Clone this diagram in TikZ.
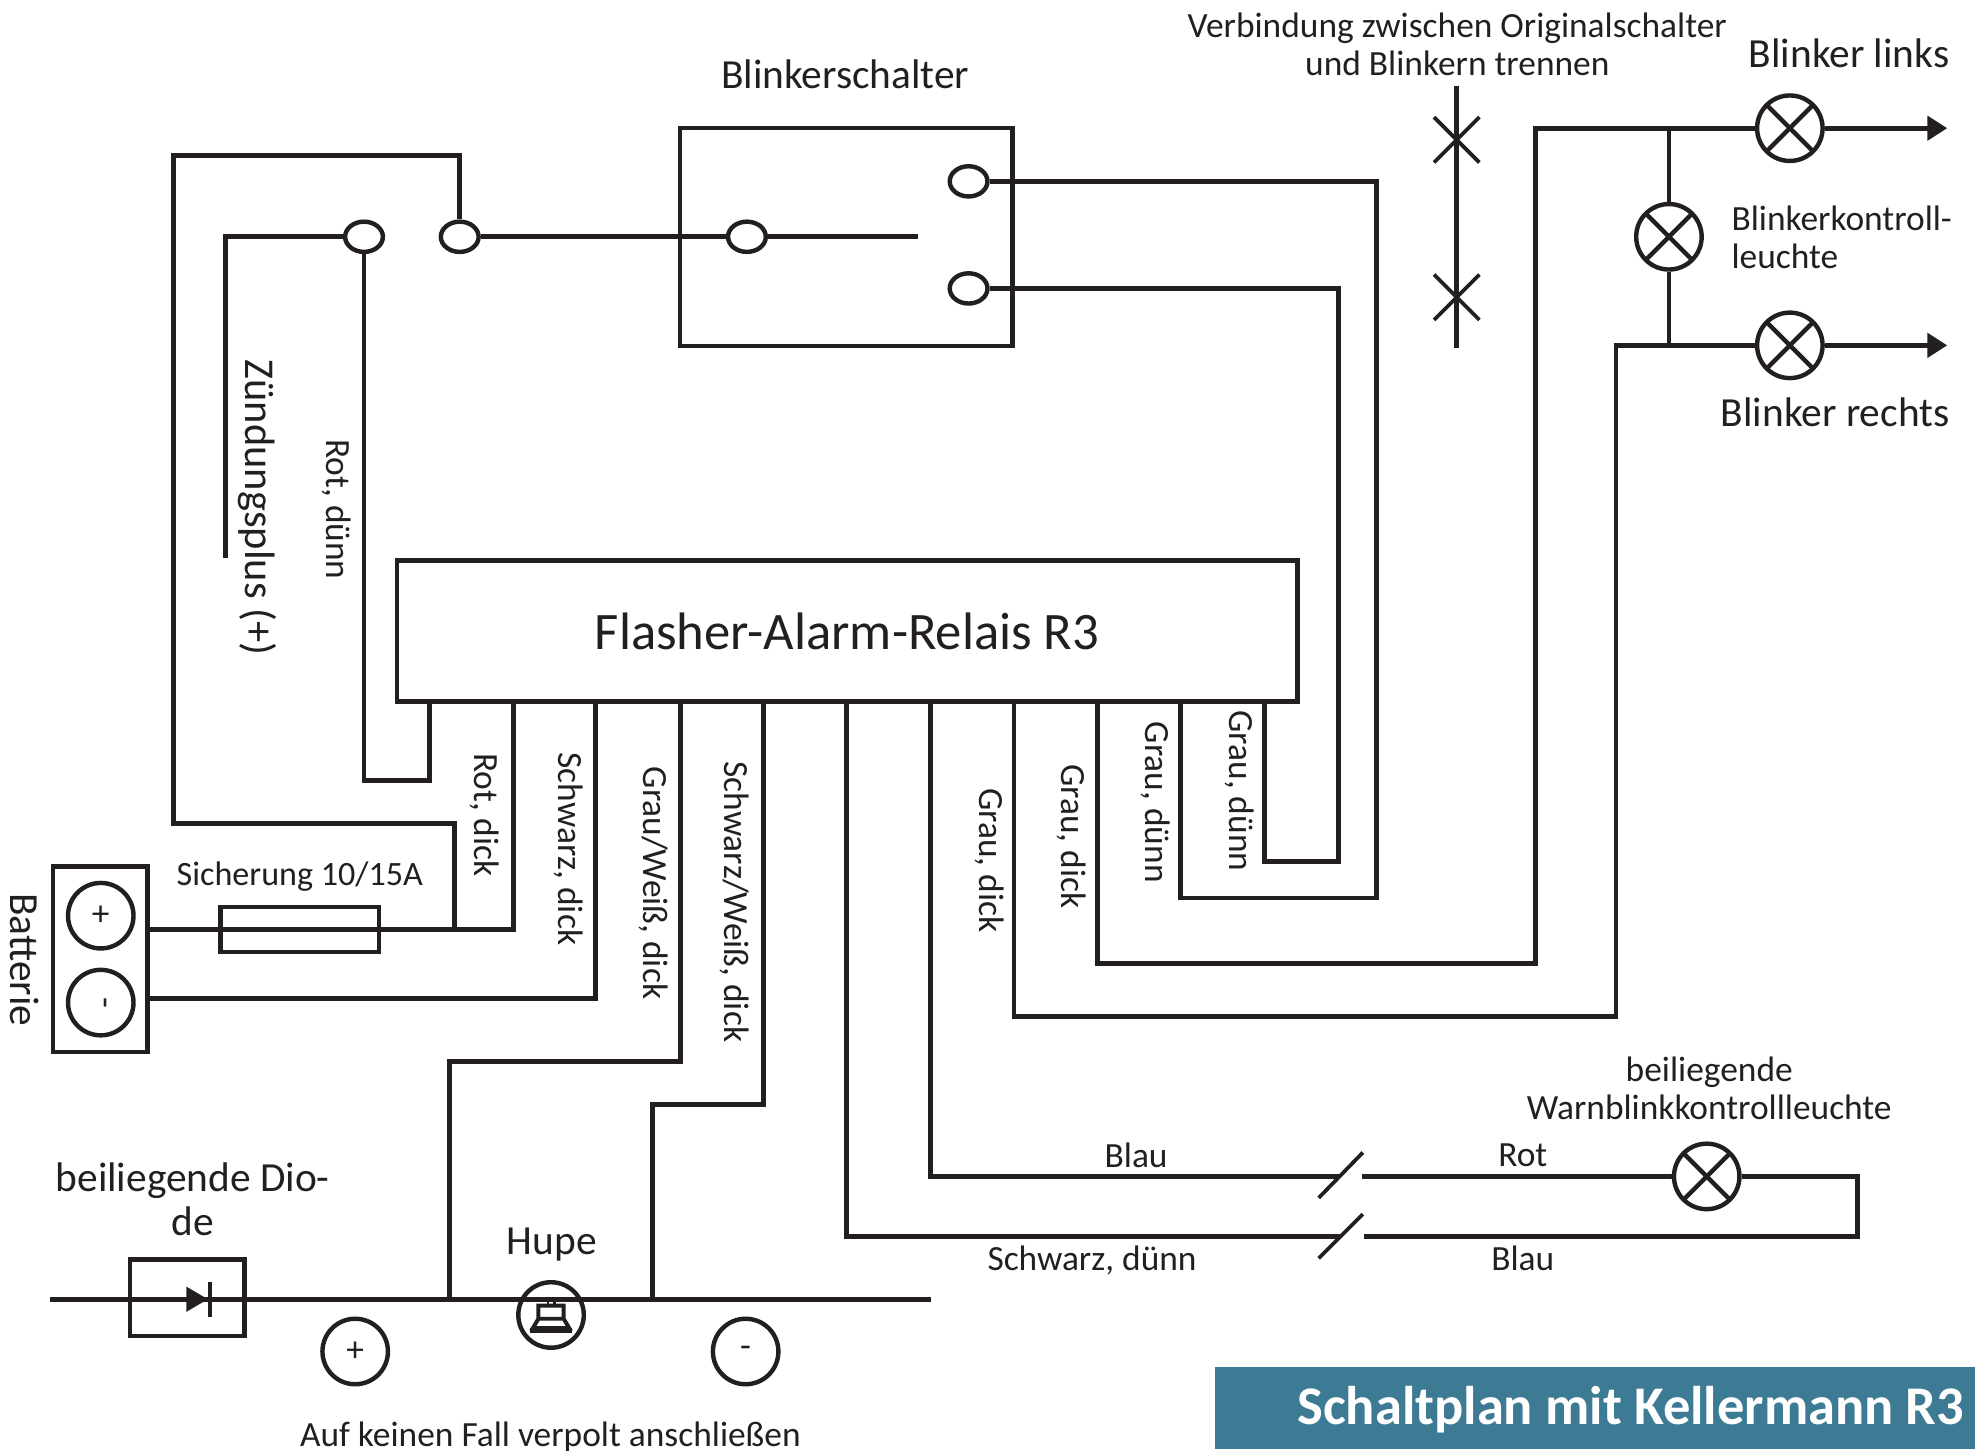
\documentclass[tikz,border=0pt]{standalone}
\usepackage{fontspec}
\setmainfont{Carlito}
\usepackage{tikz}
\usetikzlibrary{shapes.geometric}
\usetikzlibrary{arrows.meta}
\definecolor{ink}{HTML}{231F20}
\definecolor{titleblue}{HTML}{3D7A94}
\tikzstyle{every node}=[text=ink]
\tikzstyle{wire}=[draw=ink,line width=1.1pt]
\tikzstyle{thinwire}=[draw=ink,line width=0.85pt]
\tikzstyle{outline}=[draw=ink,line width=1pt,inner sep=0pt]
\tikzstyle{terminal}=[outline,fill=white,ellipse,minimum width=3mm,minimum height=2.4mm]
\tikzstyle{lamp}=[outline,fill=white,circle,minimum size=5.2mm,path picture={
	\draw[ink,line width=1pt] (path picture bounding box.north west) -- (path picture bounding box.south east)
	(path picture bounding box.north east) -- (path picture bounding box.south west);}]
\tikzstyle{pole}=[outline,circle,minimum size=5.2mm,font=\fontsize{8pt}{8pt}\selectfont]
\tikzstyle{label}=[font=\fontsize{8pt}{8.6pt}\selectfont,inner sep=0pt,align=center]
\tikzstyle{biglabel}=[font=\fontsize{9.35pt}{10pt}\selectfont,inner sep=0pt,align=center]
\tikzstyle{vlabel}=[label,rotate=-90]

\begin{document}
\begin{tikzpicture}[x=0.1mm,y=-0.1mm,>={Triangle[length=4.5pt,width=5.4pt]}]
	\useasboundingbox (0,0) rectangle (1568,1152);
	\fill[titleblue] (965,1085.5) rectangle (1568,1150.5);
	% boxes
	\node(relay)[outline,minimum width=7.15cm,minimum height=1.12cm,font=\fontsize{11.9pt}{12pt}\selectfont] at (672.5,501){\raisebox{-0.6pt}{Flasher-Alarm-Relais R3}};
	\node(switch)[outline,minimum width=2.64cm,minimum height=1.73cm] at (672,188){};
	\node(fuse)[outline,minimum width=1.26cm,minimum height=3.6mm] at (238,738){};
	\node(batt)[outline,minimum width=7.5mm,minimum height=1.47cm] at (79.5,761.5){};
	\node(diode)[outline,minimum width=9.1mm,minimum height=6.1mm] at (148.7,1030.4){};
	% terminals
	\node(t1)[terminal] at (289,188){};
	\node(t2)[terminal] at (365,188){};
	\node(t3)[terminal] at (593,188){};
	\node(t4)[terminal] at (769,144){};
	\node(t5)[terminal] at (769,229){};
	% lamps and poles
	\node(ll)[lamp] at (1421,101.8){};
	\node(lc)[lamp] at (1325,188){};
	\node(lr)[lamp] at (1421,274.2){};
	\node(lw)[lamp] at (1355,934){};
	\node(bp)[pole] at (80,727){+};
	\node(bm)[pole,rotate=-90] at (80,796){-};
	\node(hp)[pole] at (282,1073){+};
	\node(hm)[pole] at (592,1073){-};
	% free ends
	\foreach \n/\x in {a/341,b/408,c/473,d/540,e/606,f/672,g/739,h/805,i/871,j/937,k/1004}
		\coordinate (r\n) at (\x,557);
	\coordinate (lend) at (1546,101.8);
	\coordinate (rend) at (1546,274.2);
	\coordinate (ign) at (179,443);
	\coordinate (contact) at (729,188);
	\coordinate (bus) at (40,1031.5);
	\coordinate (busend) at (739,1031.5);
	\coordinate (cut) at (1156.5,68);
	\coordinate (cutend) at (1156.5,276);
	\coordinate (x1) at (1156.5,111);
	\coordinate (x2) at (1156.5,236);
	\coordinate (bwa) at (117,738);
	\coordinate (bwb) at (117,793);
	\coordinate (fusein) at (361,738);
	\coordinate (top) at (1325,101.8);
	\coordinate (bot) at (1325,274.2);
	\coordinate (hornj) at (357,1031.5);
	\coordinate (hornk) at (518,1031.5);
	% wires
	\draw[wire] (t2) -- (365,123.5) -- (137.5,123.5) -- (137.5,654) -- (361,654) -- (fusein);
	\draw[wire] (ign) |- (t1);
	\draw[wire] (t1) -- (289,620) -- (341,620) -- (ra);
	\draw[wire] (t2) -- (t3) -- (contact);
	\draw[wire] (t4) -- (1093,144) -- (1093,713) -- (937,713) -- (rj);
	\draw[wire] (t5) -- (1063,229) -- (1063,684) -- (1004,684) -- (rk);
	\draw[wire] (rb) -- (408,738) -- (bwa);
	\draw[wire] (rc) -- (473,793) -- (bwb);
	\draw[wire] (rd) -- (540,843) -- (357,843) -- (hornj);
	\draw[wire] (re) -- (606,877) -- (518,877) -- (hornk);
	\draw[wire] (rh) -- (805,807) -- (1283,807) -- (1283,274.2) -- (lr);
	\draw[wire] (ri) -- (871,765) -- (1219,765) -- (1219,101.8) -- (ll);
	\draw[wire] (rg) -- (739,934) -- (1064,934);
	\draw[wire] (1081,934) -- (lw);
	\draw[wire] (lw) -- (1475,934) -- (1475,981.5) -- (1083,981.5);
	\draw[wire] (rf) -- (672,981.5) -- (1064,981.5);
	\draw[wire] (bus) -- (busend);
	\draw[wire,->] (ll) -- (lend);
	\draw[wire,->] (lr) -- (rend);
	\draw[wire] (top) -- (lc);
	\draw[wire] (lc) -- (bot);
	\draw[wire] (cut) -- (cutend);
	\draw[thinwire] (x1)+(-18,-18) -- +(18,18) (x1)+(-18,18) -- +(18,-18);
	\draw[thinwire] (x2)+(-18,-18) -- +(18,18) (x2)+(-18,18) -- +(18,-18);
	\draw[thinwire] (1047,951) -- (1082,915);
	\draw[thinwire] (1047,999) -- (1082,964);
	% diode and horn
	\fill[ink] (148,1021.5) -- (165,1031.5) -- (148,1041.5) -- cycle;
	\draw[thinwire] (167,1017.5) -- (167,1045.5);
	\node(horn)[pole] at (437.5,1044){};
	\draw[ink,line width=0.6pt] (435,1031.5) -- (435,1036.5) (440,1031.5) -- (440,1036.5);
	\draw[ink,line width=0.9pt] (427.5,1047) -- (427.5,1036.5) -- (447.5,1036.5) -- (447.5,1047) -- (452,1054.5) -- (423,1054.5) -- cycle (427.5,1047) -- (447.5,1047);
	\fill[ink] (420.5,1054.5) rectangle (454.5,1058.5);
	% labels
	\node(lswitch)[biglabel] at (671,59){Blinkerschalter};
	\node(lcut)[label] at (1157,35){Verbindung zwischen Originalschalter\\und Blinkern trennen};
	\node(lleft)[biglabel] at (1468,42){Blinker links};
	\node(lright)[biglabel] at (1457,327.5){Blinker rechts};
	\node(lkontroll)[label,align=left,anchor=west] at (1374,188.5){Blinkerkontroll-\\leuchte};
	\node(lign)[biglabel,font=\fontsize{9.6pt}{10pt}\selectfont,rotate=-90] at (204,403){Zündungsplus (+)};
	\node(va)[vlabel] at (267.5,404.5){Rot, dünn};
	\node(vb)[vlabel] at (384.5,647){Rot, dick};
	\node(vc)[vlabel] at (451.5,674){Schwarz, dick};
	\node(vd)[vlabel] at (518.5,701){Grau/Weiß, dick};
	\node(ve)[vlabel] at (583.5,716){Schwarz/Weiß, dick};
	\node(vh)[vlabel] at (785.5,683){Grau, dick};
	\node(vi)[vlabel] at (850.5,664){Grau, dick};
	\node(vj)[vlabel] at (917.5,637){Grau, dünn};
	\node(vk)[vlabel] at (984,628){Grau, dünn};
	\node(lfuse)[label,font=\fontsize{7.7pt}{8.6pt}\selectfont] at (238,696){Sicherung 10/15A};
	\node(lbatt)[biglabel,rotate=-90] at (19.5,762){Batterie};
	\node(ldiode)[biglabel] at (153,952){beiliegende Dio-\\de};
	\node(lhorn)[biglabel] at (438,988){Hupe};
	\node(lwarn)[label] at (1357,864){beiliegende\\Warnblinkkontrollleuchte};
	\node(wa)[label] at (902,917){Blau};
	\node(wb)[label] at (1209,917){Rot};
	\node(wc)[label] at (867,1001){Schwarz, dünn};
	\node(wd)[label] at (1209,999){Blau};
	\node(lpol)[label] at (437,1141){Auf keinen Fall verpolt anschließen};
	\node(ltitle)[anchor=east,inner sep=0pt,text=white,font=\bfseries\fontsize{12.3pt}{13pt}\selectfont] at (1560,1119){Schaltplan mit Kellermann R3};
\end{tikzpicture}
\end{document}
